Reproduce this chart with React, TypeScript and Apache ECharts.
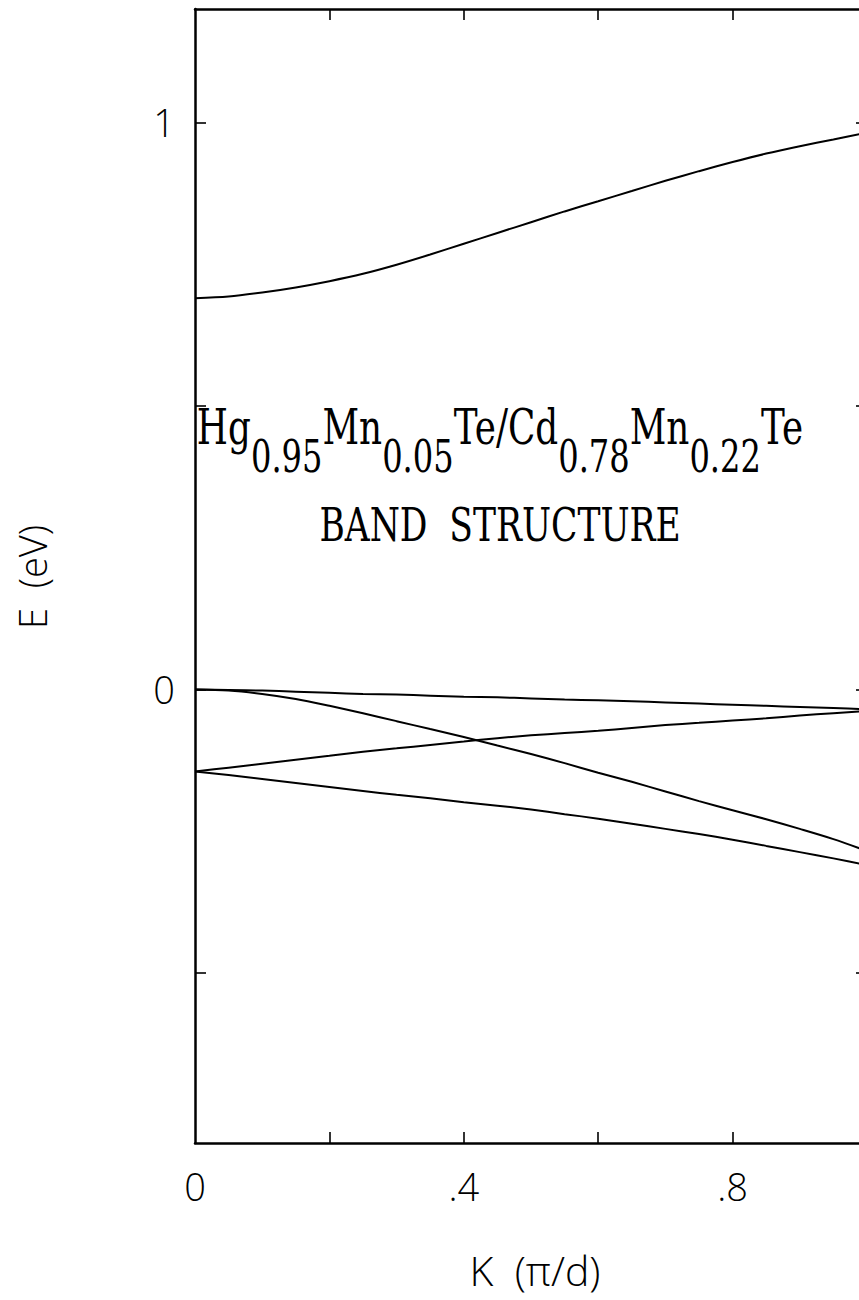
import React, { useEffect, useRef } from "react";
import * as echarts from "echarts";

// Wave vector K in units of pi/d
const kValues = [0, 0.05, 0.1, 0.15, 0.2, 0.25, 0.3, 0.35, 0.4, 0.45, 0.5, 0.55, 0.6, 0.65, 0.7, 0.75, 0.8, 0.85, 0.9, 0.95, 1.0];

// Subband energies E (eV)
const conductionBand = [0.69, 0.693, 0.7, 0.709, 0.72, 0.733, 0.749, 0.767, 0.786, 0.805, 0.824, 0.843, 0.861, 0.879, 0.897, 0.914, 0.93, 0.945, 0.958, 0.97, 0.982];
const flatBand = [0, -0.001, -0.002, -0.004, -0.006, -0.008, -0.009, -0.011, -0.013, -0.014, -0.016, -0.018, -0.019, -0.021, -0.023, -0.025, -0.027, -0.029, -0.031, -0.033, -0.035];
const fallingBand = [0, -0.002, -0.008, -0.017, -0.029, -0.042, -0.056, -0.07, -0.084, -0.099, -0.114, -0.13, -0.147, -0.163, -0.18, -0.197, -0.213, -0.229, -0.246, -0.264, -0.285];
const risingBand = [-0.145, -0.138, -0.131, -0.124, -0.117, -0.11, -0.104, -0.098, -0.092, -0.086, -0.081, -0.077, -0.073, -0.068, -0.063, -0.059, -0.055, -0.051, -0.046, -0.042, -0.038];
const lowestBand = [-0.145, -0.151, -0.158, -0.165, -0.172, -0.179, -0.186, -0.192, -0.199, -0.205, -0.212, -0.22, -0.228, -0.237, -0.246, -0.255, -0.265, -0.276, -0.287, -0.298, -0.31];

const bands = [conductionBand, flatBand, fallingBand, risingBand, lowestBand];

// Axis ticks and labels
const xTicks = [0.2, 0.4, 0.6, 0.8];
const xLabels = [0, 0.4, 0.8];
const yTicks = [-0.5, 0, 0.5, 1];
const yLabels = [0, 1];

const xName = "K  (π/d)";
const yName = "E  (eV)";
const titleLine2 = "BAND  STRUCTURE";

const SANS = "'Open Sans', 'DejaVu Sans', sans-serif";
const SERIF = "'DejaVu Serif', 'Liberation Serif', serif";

const fmt = (v: number) => (v === 0 ? "0" : String(v).replace(/^0/, "").replace(/^-0/, "-"));

export default function App() {
  const ref = useRef<HTMLDivElement>(null);

  useEffect(() => {
    if (!ref.current) return;
    const chart = echarts.init(ref.current, undefined, { renderer: "svg" });

    const axisLine = { onZero: false, lineStyle: { color: "#000", width: 2.5 } };
    const tickStyle = { color: "#000", width: 1.6 };
    const labelStyle = { color: "#000", fontSize: 38, fontFamily: SANS, fontWeight: 300 as any };

    const xAxisBase = {
      type: "value" as const,
      min: 0,
      max: 1,
      axisLine,
      splitLine: { show: false },
      axisTick: { inside: true, length: 11, lineStyle: tickStyle, customValues: xTicks },
    };
    const yAxisBase = {
      type: "value" as const,
      min: -0.8,
      max: 1.2,
      axisLine,
      splitLine: { show: false },
      axisTick: { inside: true, length: 11, lineStyle: tickStyle, customValues: yTicks },
    };

    chart.setOption({
      animation: false,
      backgroundColor: "#fff",
      grid: { left: 195, top: 9, width: 672, height: 1134 },
      xAxis: [
        {
          ...xAxisBase,
          position: "bottom",
          axisLabel: { ...labelStyle, customValues: xLabels, formatter: fmt, margin: 24 },
        },
        { ...xAxisBase, position: "top", axisLabel: { show: false } },
      ],
      yAxis: [
        {
          ...yAxisBase,
          position: "left",
          axisLabel: { ...labelStyle, customValues: yLabels, formatter: fmt, margin: 20 },
        },
        { ...yAxisBase, position: "right", axisLabel: { show: false } },
      ],
      series: bands.map((band) => ({
        type: "line",
        xAxisIndex: 0,
        yAxisIndex: 0,
        data: kValues.map((k, i) => [k, band[i]]),
        symbol: "none",
        smooth: 0.3,
        lineStyle: { color: "#000", width: 2 },
      })),
      graphic: [
        {
          type: "text",
          x: 32,
          y: 577,
          rotation: Math.PI / 2,
          style: {
            text: yName,
            fontSize: 38,
            fontFamily: SANS,
            fontWeight: 300,
            fill: "#000",
            align: "center",
            verticalAlign: "middle",
          },
        },
        {
          type: "text",
          x: 535,
          y: 1270,
          style: {
            text: xName,
            fontSize: 41,
            fontFamily: SANS,
            fontWeight: 300,
            fill: "#000",
            align: "center",
            verticalAlign: "middle",
          },
        },
        {
          type: "text",
          x: 500,
          y: 402,
          scaleX: 0.73,
          style: {
            text: "{m|Hg}{s|0.95}{m|Mn}{s|0.05}{m|Te/Cd}{s|0.78}{m|Mn}{s|0.22}{m|Te}",
            align: "center",
            verticalAlign: "top",
            fill: "#000",
            rich: {
              m: { fontSize: 49, fontFamily: SERIF, verticalAlign: "top", fill: "#000" },
              s: { fontSize: 44, fontFamily: SERIF, verticalAlign: "top", padding: [33, 0, 0, 0], fill: "#000" },
            },
          },
        },
        {
          type: "text",
          x: 500,
          y: 525,
          scaleX: 0.75,
          style: {
            text: titleLine2,
            fontSize: 46,
            fontFamily: SERIF,
            fill: "#000",
            align: "center",
            verticalAlign: "middle",
          },
        },
      ],
    });

    return () => chart.dispose();
  }, []);

  return (
    <div style={{ position: "fixed", left: 0, top: 0, width: 859, height: 1300, overflow: "hidden", background: "#fff" }}>
      <div ref={ref} style={{ width: 900, height: 1300 }} />
    </div>
  );
}
